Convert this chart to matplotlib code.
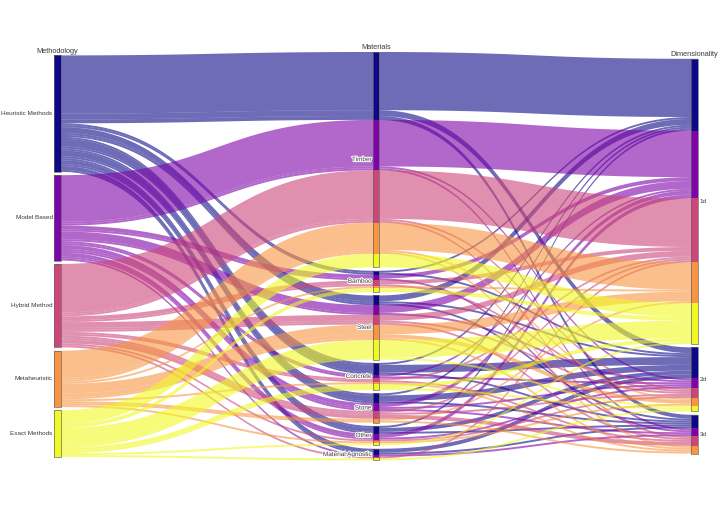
import numpy as np
import matplotlib
matplotlib.use('Agg')
import matplotlib.pyplot as plt
import matplotlib.patheffects as pe
from matplotlib.patches import Polygon, Rectangle

dimension_names = ['Methodology', 'Materials', 'Dimensionality']
methods = ['Heuristic Methods', 'Model Based', 'Hybrid Method', 'Metaheuristic', 'Exact Methods']
materials = ['Timber', 'Bamboo', 'Steel', 'Concrete', 'Stone', 'Other', 'Material Agnostic']
dims = ['1d', '2d', '3d']

# paper counts: one row per material, columns are 1d / 2d / 3d
heuristic_counts = [[30, 3, 2], [1, 1, 0], [3, 1, 1], [1, 4, 1], [1, 3, 1], [1, 2, 1], [0, 2, 1]]
model_based_counts = [[24, 1, 1], [2, 0, 1], [4, 1, 0], [1, 1, 0], [2, 1, 1], [2, 1, 0], [0, 0, 1]]
hybrid_counts = [[25, 1, 1], [2, 1, 0], [3, 1, 1], [1, 0, 1], [1, 1, 2], [0, 1, 0], [1, 0, 0]]
metaheuristic_counts = [[14, 1, 1], [1, 0, 0], [5, 2, 1], [0, 0, 1], [1, 0, 1], [0, 1, 0], [0, 0, 0]]
exact_counts = [[7, 0, 0], [2, 0, 0], [9, 1, 0], [2, 1, 0], [0, 0, 0], [1, 0, 0], [0, 1, 0]]

tables = [heuristic_counts, model_based_counts, hybrid_counts, metaheuristic_counts, exact_counts]

# every path = (method, material, dim, count), already in forward sort order
paths = []
for mi, table in enumerate(tables):
    for ma, row in enumerate(table):
        for di, c in enumerate(row):
            if c > 0:
                paths.append((mi, ma, di, c))

colors = [plt.cm.plasma(i / (len(methods) - 1)) for i in range(len(methods))]

fig = plt.figure(figsize=(7.2, 5.09), dpi=100)
ax = fig.add_axes([0, 0, 1, 1])
ax.set_xlim(0, 720)
ax.set_ylim(509, 0)
ax.axis('off')

col_x = [54, 372.5, 691]
bar_w = 6.8
unit = 1.94
gap = 3.4
center_y = 256.2
cats = [methods, materials, dims]

# category tops per dimension
cat_tops = []
for d in range(3):
    totals = np.zeros(len(cats[d]))
    for p in paths:
        totals[p[d]] += p[3]
    span = totals.sum() * unit + (len(totals) - 1) * gap
    tops = center_y - span / 2 + np.concatenate([[0], np.cumsum(totals[:-1] * unit + gap)])
    cat_tops.append((tops, totals))

# y of each path at each dimension
path_y = []
offsets = [np.zeros(len(c)) for c in cats]
for p in paths:
    ys = []
    for d in range(3):
        k = p[d]
        ys.append(cat_tops[d][0][k] + offsets[d][k])
        offsets[d][k] += p[3] * unit
    path_y.append(ys)

t = np.linspace(0, 1, 50)


def bez(xa, ya, xb, yb):
    xm = (xa + xb) / 2
    x = (1 - t) ** 3 * xa + 3 * (1 - t) ** 2 * t * xm + 3 * (1 - t) * t ** 2 * xm + t ** 3 * xb
    y = (1 - t) ** 3 * ya + 3 * (1 - t) ** 2 * t * ya + 3 * (1 - t) * t ** 2 * yb + t ** 3 * yb
    return x, y


for p, ys in zip(paths, path_y):
    h = p[3] * unit
    top_x, top_y = [col_x[0]], [ys[0]]
    for d in range(2):
        bx, by = bez(col_x[d] + bar_w, ys[d], col_x[d + 1], ys[d + 1])
        top_x += list(bx)
        top_y += list(by)
    top_x.append(col_x[2] + bar_w)
    top_y.append(ys[2])
    xs = np.array(top_x)
    yt = np.array(top_y)
    verts = np.column_stack([np.concatenate([xs, xs[::-1]]),
                             np.concatenate([yt, (yt + h)[::-1]])])
    ax.add_patch(Polygon(verts, closed=True, facecolor=colors[p[0]], alpha=0.6,
                         edgecolor='none', zorder=2))

# category bars with colour bands
for d in range(3):
    for p, ys in zip(paths, path_y):
        ax.add_patch(Rectangle((col_x[d], ys[d]), bar_w, p[3] * unit,
                               facecolor=colors[p[0]], edgecolor='none', zorder=3))
    tops, totals = cat_tops[d]
    for k, name in enumerate(cats[d]):
        ax.add_patch(Rectangle((col_x[d], tops[k]), bar_w, totals[k] * unit,
                               facecolor='none', edgecolor='#666666', lw=0.5, zorder=4))
        yc = tops[k] + totals[k] * unit / 2
        if d == 0:
            ax.text(col_x[d] - 1.5, yc, name, ha='right', va='center', fontsize=4.6,
                    color='#3a3a3a', family='Liberation Sans', zorder=5)
        elif d == 1:
            ax.text(col_x[d] - 1, yc, name, ha='right', va='center', fontsize=4.6,
                    color='#3a3a3a', family='Liberation Sans', zorder=5,
                    path_effects=[pe.withStroke(linewidth=1.5, foreground='white')])
        else:
            ax.text(col_x[d] + bar_w + 2, yc, name, ha='left', va='center', fontsize=4.6,
                    color='#3a3a3a', family='Liberation Sans', zorder=5)
    ax.text(col_x[d] + bar_w / 2, tops[0] - 0.6, dimension_names[d], ha='center', va='bottom',
            fontsize=5.3, color='#3a3a3a', family='Liberation Sans', zorder=5)

fig.savefig('out.png', dpi=100, facecolor='white')
